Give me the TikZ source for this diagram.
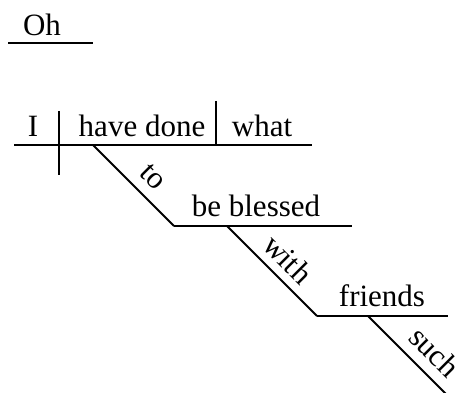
\documentclass[tikz,border=0pt]{standalone}
\usepackage{fontspec}
\setmainfont{Liberation Serif}
\usetikzlibrary{positioning}
\begin{document}
\begin{tikzpicture}[x=1pt,y=-1pt,line width=2pt,
    word/.style={anchor=base,inner sep=0pt,font=\fontsize{31}{32}\selectfont},
    slant/.style={word,anchor=center,rotate=-45}]
  \useasboundingbox (0,0) rectangle (464,393);
  % words
  \draw
    (42,36) node[word] (oh){Oh}
    (33,137) node[word] (i){I}
    (142,137) node[word] (have){have done}
    (262,137) node[word] (what){what}
    (256,217) node[word] (blessed){be blessed}
    (382,307) node[word] (friends){friends};
  \node[slant] (to) at (153,177) {to};
  \node[slant] (with) at (288,259) {with};
  \node[slant] (such) at (435,352) {such};
  % line ends
  \coordinate (ohL) at (8,43);
  \coordinate (ohR) at (93,43);
  \coordinate (mainL) at (14,145);
  \coordinate (mainR) at (312,145);
  \coordinate (svT) at (59,111);
  \coordinate (svB) at (59,175);
  \coordinate (voT) at (216,101);
  \coordinate (voB) at (216,145);
  \coordinate (toT) at (93,145);
  \coordinate (toB) at (174,226);
  \coordinate (bbR) at (352,226);
  \coordinate (withT) at (227,226);
  \coordinate (withB) at (317,316);
  \coordinate (frR) at (448,316);
  \coordinate (suchT) at (368,316);
  \coordinate (suchB) at (446,394);
  \begin{scope}[-]
    \draw (ohL) to (ohR);
    \draw (mainL) to (mainR);
    \draw (svT) to (svB);
    \draw (voT) to (voB);
    \draw (toT) to (toB);
    \draw (toB) to (bbR);
    \draw (withT) to (withB);
    \draw (withB) to (frR);
    \draw (suchT) to (suchB);
  \end{scope}
\end{tikzpicture}
\end{document}
